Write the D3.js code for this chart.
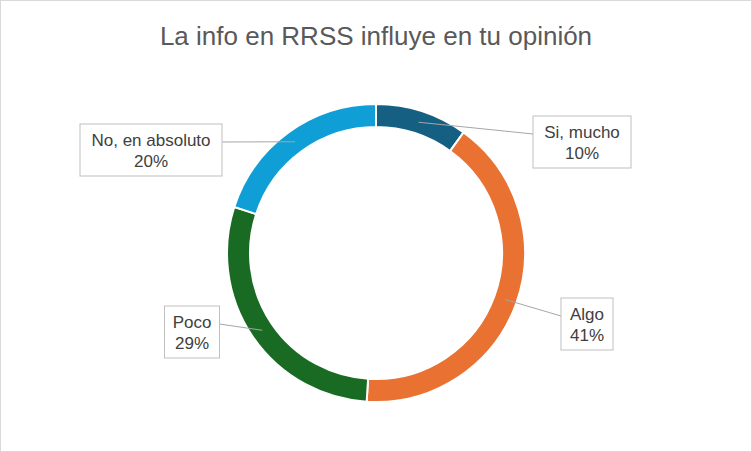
<!DOCTYPE html>
<html><head><meta charset="utf-8">
<script src="https://cdn.jsdelivr.net/npm/d3@7"></script>
<style>body{margin:0;background:#fff}</style>
</head><body>
<div id="chart"></div>
<script>
var categories = ["Si, mucho", "Algo", "Poco", "No, en absoluto"];
var values = [10, 41, 29, 20];
var colors = ["#156082", "#E97132", "#196B24", "#0F9ED5"];
// label box centers (annotation layout)
var labelPos = [[582, 142], [587, 324], [192, 332], [151, 150]];

var width = 752, height = 452;
var cx = 376, cy = 253, outerR = 149, innerR = 126;

var svg = d3.select("#chart").append("svg")
    .attr("width", width).attr("height", height);

svg.append("rect").attr("x", 0.5).attr("y", 0.5)
    .attr("width", width - 1).attr("height", height - 1)
    .attr("fill", "#fff").attr("stroke", "#d9d9d9");

svg.append("text").text("La info en RRSS influye en tu opinión")
    .attr("x", width / 2).attr("y", 45)
    .attr("text-anchor", "middle")
    .attr("font-family", "Liberation Sans, Arial, sans-serif")
    .attr("font-size", 26).attr("fill", "#595959");

var pie = d3.pie().sort(null)(values);
var arc = d3.arc().innerRadius(innerR).outerRadius(outerR);

var g = svg.append("g").attr("transform", "translate(" + cx + "," + cy + ")");
g.selectAll("path").data(pie).enter().append("path")
    .attr("d", arc)
    .attr("fill", (d, i) => colors[i])
    .attr("stroke", "#fff").attr("stroke-width", 2);

var total = d3.sum(values);
var boxW = [98, 52, 55, 142], boxH = 52;

pie.forEach(function(d, i) {
    var a = (d.startAngle + d.endAngle) / 2;
    var r = (innerR + outerR) / 2;
    var px = cx + r * Math.sin(a), py = cy - r * Math.cos(a);
    var lx = labelPos[i][0], ly = labelPos[i][1];
    var w = boxW[i];
    var ex = px < lx ? lx - w / 2 : lx + w / 2;
    svg.append("line")
        .attr("x1", px).attr("y1", py).attr("x2", ex).attr("y2", ly - 8)
        .attr("stroke", "#a6a6a6").attr("stroke-width", 1);
    svg.append("rect")
        .attr("x", lx - w / 2).attr("y", ly - boxH / 2)
        .attr("width", w).attr("height", boxH)
        .attr("fill", "#fff").attr("stroke", "#bfbfbf");
    var t = svg.append("text")
        .attr("text-anchor", "middle")
        .attr("font-family", "Liberation Sans, Arial, sans-serif")
        .attr("font-size", 17).attr("fill", "#404040");
    t.append("tspan").attr("x", lx).attr("y", ly - 4).text(categories[i]);
    t.append("tspan").attr("x", lx).attr("y", ly + 17)
        .text(Math.round(values[i] / total * 100) + "%");
});
</script>
</body></html>
